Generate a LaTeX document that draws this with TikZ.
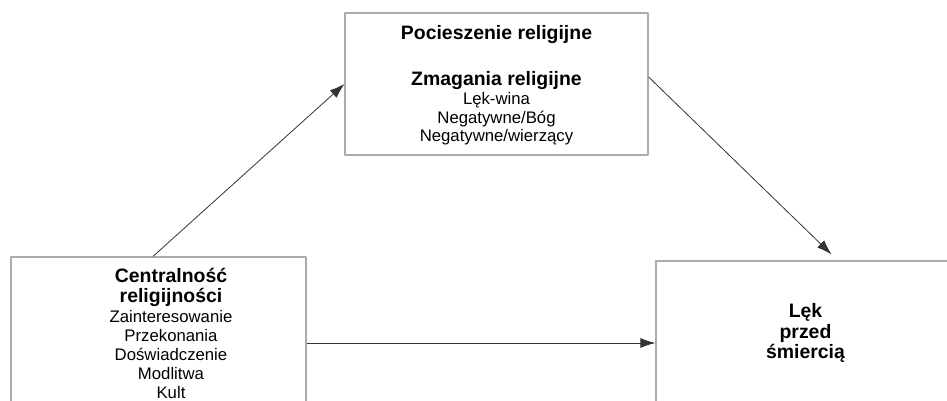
\documentclass[tikz,border=0pt]{standalone}
\usepackage{fontspec}
\setmainfont{Liberation Sans}
\usepackage{tikz}
\usetikzlibrary{arrows.meta}

\begin{document}
\begin{tikzpicture}[>={Latex[length=15bp,width=10bp]},line join=bevel,
  box/.style={draw=gray!65,line width=1.2bp},
  conn/.style={draw=black!80,line width=0.8bp},
  txt/.style={align=center,inner sep=0pt,anchor=base,
    font=\fontsize{16.8}{19}\selectfont},
  hd/.style={font=\fontsize{19.5}{21}\selectfont\bfseries}]
\useasboundingbox (0bp,0bp) rectangle (947bp,401bp);
\clip (0bp,0bp) rectangle (947bp,401bp);
%%
\node (pociesz) at (496.5bp,317bp) [box,minimum width=303bp,minimum height=142bp] {};
  \node (centr) at (158.5bp,58bp) [box,minimum width=295bp,minimum height=172bp] {};
  \node (lek) at (805.5bp,58bp) [box,minimum width=299bp,minimum height=164bp] {};
  \node (pocieszT) at (496.5bp,259bp) [txt] {\textbf{\fontsize{19.5}{21}\selectfont Pocieszenie religijne}\\[27bp]
    \textbf{\fontsize{19.5}{21}\selectfont Zmagania religijne}\\
    Lęk-wina\\ Negatywne/Bóg\\ Negatywne/wierzący};
  \node (centrT) at (171bp,2.5bp) [txt] {\textbf{\fontsize{19.5}{21}\selectfont Centralność}\\[1.5bp]
    \textbf{\fontsize{19.5}{21}\selectfont religijności}\\[1bp]
    Zainteresowanie\\ Przekonania\\ Doświadczenie\\ Modlitwa\\ Kult};
  \node (lekT) at (805.5bp,42bp) [txt,hd] {Lęk\\ przed\\ śmiercią};
  \draw [->,conn] ([xshift=-5.5bp]centr.north) -- (pociesz.west);
  \draw [->,conn] ([yshift=7bp]pociesz.east) -- ([xshift=26bp,yshift=6bp]lek.north);
  \draw [->,conn] (centr.east) -- (centr.east -| lek.west);
%
\end{tikzpicture}
\end{document}
